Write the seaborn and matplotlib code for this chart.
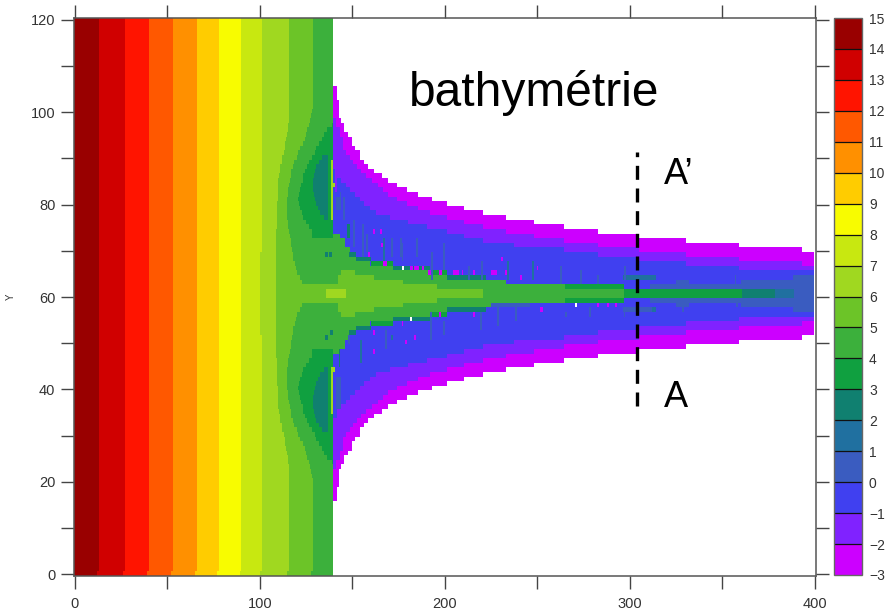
import numpy as np
import matplotlib
matplotlib.use("Agg")
import matplotlib.pyplot as plt
from matplotlib.colors import ListedColormap, BoundaryNorm
import seaborn as sns

# colour classes, from -3 upward
LEVELS = list(range(-3, 16))
COLOURS = ["#cc00ff", "#8022ff", "#4040f0", "#3a5cc0", "#2070a0", "#108070",
           "#10a040", "#3cb03c", "#6cc428", "#a0d820", "#c8e810", "#f8fc00",
           "#ffcc00", "#ff9000", "#ff5800", "#ff1400", "#d00000", "#990000"]

# straight land contours (x), and the classes between them
LAND_EDGES = [13, 27, 40, 53, 66, 78, 90]
LAND_VALUES = [14.5, 13.5, 12.5, 11.5, 10.5, 9.5, 8.5, 7.5, 6.5, 5.5, 4.5]
COAST_X = 139.5
EAST_X = 399.5
BOTTOM_ROW_SHIFT = 1.0

# curved contours: x of the contour on row k counted away from the channel axis
EDGE_7 = [100.2] * 9 + [101]
EDGE_6 = [108.6] * 14 + [109, 109, 109, 109, 109, 109, 109.5, 109.5, 110, 110, 110, 110.5, 111, 111,
                         112, 112, 113, 113.4, 113.4, 114, 114.5, 115, 115, 115.7]
EDGE_5 = [122.8, 122.8, 122.5, 121.5, 120.1, 119.5, 119, 118, 118, 117.5, 117, 116.6, 116, 115.7, 115.2,
          115, 114.7, 114.7, 114.7, 114.7, 114.7, 115, 115.2, 115.7, 116.2, 116.7, 117, 118, 118.6, 120,
          120.7, 121.5, 123, 124.3, 125, 125.6, 126.6, 127, 127.4, 128, 128.6]
EDGE_4_K = list(range(12, 37))
EDGE_4 = [128, 127.9, 126.5, 125.2, 123.5, 122.5, 121.7, 121, 120.7, 121, 121.6, 122.2, 122.8, 123.5, 124.3,
          125.5, 126.5, 127.9, 129.5, 130.6, 132, 133.5, 134.5, 136, 139]
EDGE_3_K = list(range(16, 30))
EDGE_3 = [134.5, 132.5, 131.4, 130.5, 129.7, 129, 128.5, 128.5, 128.6, 129.2, 130, 130.6, 132, 133.3]
EDGE_3_END = 137

# channel half-widths (rows) after each station x
OUTER_X = [139.5, 141.5, 142.5, 144, 145.4, 147.7, 149.6, 151.4, 154, 156.2, 158.4, 161.6, 165.8, 169.2, 174,
           179.5, 185.4, 193, 201, 210.3, 220.5, 233, 248, 264.3, 282.7, 304.9, 330.3, 358.9, 393]
OUTER_N = [45, 42, 38, 37, 35, 34, 32, 31, 29, 28, 27, 26, 25, 24, 23, 22, 21, 20, 19, 18, 17, 16, 15, 14, 13,
           12, 11, 10, 9]
MAG_X = [139.5, 141, 143.2, 144.9, 146.5, 148.6, 150.3, 152.3, 154.6, 157.7, 160.5, 163.8, 166.5, 169.2, 174,
         179.3, 185.4, 191.9, 200.9, 210.3, 220.5, 233, 248, 264.3, 282.7, 304.9, 330.3, 358.9, 393]
MAG_N = [38, 36, 34, 31, 30, 29, 28, 27, 26, 25, 24, 23, 22, 21, 20, 19, 18, 17, 16, 15, 14, 13, 12, 11, 10, 9,
         8, 7, 6]
PURPLE_X = [139.5, 141.6, 144.2, 146.5, 148.6, 151.4, 154, 156.2, 159.5, 162.7, 170.3, 180, 190.3, 201.1, 210.3,
            220.5, 237.3, 264.3, 282.7, 304.9, 330.3, 358.9]
PURPLE_N = [27, 25, 24, 23, 22, 21, 20, 19, 18, 17, 16, 15, 14, 13, 12, 11, 10, 9, 8, 7, 6, 5]
SHELF_X = [139.5, 143.2, 146, 148.6, 152.4, 159.5, 171.9, 191.9, 201, 233, 296.8]
SHELF_N = [13, 12, 10, 8, 7, 6, 5, 4, 3, 2, 0]

# bands mirrored on both sides of the axis: row k, x range, class value
BAND_K = [0, 0, 1, 2, 3, 4, 0, 0, 0, 0, 0, 1, 1, 2, 3, 6, 5, 4, 3, 7, 8, 3, 2]
BAND_X0 = [108.6, 135.7, 108.6, 141.8, 141.8, 144.1, 296.8, 360.5, 378.4, 388.6, 220.4, 265, 311, 360, 388,
           160, 172, 192, 201, 152, 148, 296, 325]
BAND_X1 = [220.4, 146.5, 195.5, 177.5, 161.6, 151.4, 360.5, 378.4, 388.6, 399.5, 296.8, 296.8, 399.5, 399.5,
           399.5, 172, 192, 201, 222, 160, 152, 314, 332]
BAND_V = [5.5, 6.5, 5.5, 5.5, 5.5, 5.5, 3.5, 2.5, 1.5, 0.5, 4.5, 3.5, 0.5, 0.5, 0.5,
          3.5, 2.5, 3.5, 2.5, 2.5, 2.5, 1.5, 0.5]

# single irregular cells and short streaks: x, width, y range, class value (-9 = no data)
S_X = [141, 140.5, 143, 145, 146.8, 150.4, 155, 161, 164.8, 157.6, 166.6, 171, 176.5, 167.5, 199, 192.7, 183.7,
       187.3, 219.7, 196.3, 204.4, 209, 226, 212.5, 177, 181, 270.7,
       141, 142.3, 147.7, 154, 161.2, 161.2, 167.5, 171, 176.5, 178.3, 183, 191.8, 199, 215.2, 197.2, 218.8,
       233.3, 246.8, 249.5, 262, 230.6, 225.2, 227, 240.5, 272.9, 282, 297.2, 356.6,
       225, 251.3, 228, 237.8, 282, 287.3, 291.8, 296, 327.8, 357.5, 375.5, 278, 264.8, 296.3,
       138.3, 138.5, 138.5, 135, 137.5, 138.3, 138.5, 138.5, 135, 138,
       155, 171, 175.6, 184.6, 158.5, 165.7, 181, 184.6, 191, 196.3, 205.3, 215, 227, 232.3, 166.6]
S_W = [3, 1, 1, 1, 1.5, 1, 1, 1, 1, 1, 1, 1, 1, 1, 1, 1, 1,
       1, 1, 1, 1, 1, 1, 1, 1, 1, 1,
       3, 1, 1, 1, 1, 1, 1, 1, 1, 1, 1.5, 1, 1, 1, 1, 1,
       1, 1, 1, 1, 1, 1, 1, 1, 1, 1, 1, 1,
       21, 1.5, 1, 1, 1, 1, 1, 16, 1, 1, 1, 1, 1, 1,
       2, 1, 1, 1.5, 1.5, 2, 1, 1, 1.5, 1.5,
       1, 1, 1, 1, 1, 1, 1.5, 1.5, 1.5, 2, 2, 1, 1, 1, 1.5]
S_Y0 = [79, 83, 80, 77, 73.5, 71.6, 71, 74, 74.5, 70, 68, 72.5, 68, 67.5, 66, 64.5, 66, 66, 64.5, 65, 65, 65,
        65, 64.5, 66, 55.2, 58.2,
        36.2, 45, 50, 46.4, 48.5, 52, 49.3, 51, 54.3, 50.4, 51.4, 51.4, 52, 56.5, 56.5, 53,
        64, 64.4, 66.5, 63, 68.4, 65.3, 65.3, 64.2, 63, 63, 64.4, 62,
        58, 57.2, 54.6, 55, 58.2, 58.2, 58.2, 57.2, 57, 58, 58.3, 56.5, 56, 56,
        84.3, 78, 77.3, 69.5, 69.5, 44.6, 35.5, 35.2, 51.5, 52,
        69, 69, 69, 69, 69.7, 71, 66, 66, 65.2, 65.2, 65.2, 65.2, 65.2, 65, 67.3]
S_Y1 = [81, 87.5, 82.5, 81, 75, 76, 75, 74, 74.5, 73, 72, 72.5, 71.5, 67.5, 71, 69.5, 66, 66, 67.5, 65, 65, 65,
        65, 66.5, 66, 55.2, 58.2,
        42.7, 47.8, 51.4, 50, 48.5, 52, 52, 51, 54.3, 50.4, 51.4, 55.8, 54.7, 56.5, 56.5, 56.5,
        67, 67.6, 66.5, 66, 68.4, 65.3, 65.3, 64.2, 65.5, 64.4, 66.5, 64,
        58, 57.2, 58, 58, 58.2, 58.2, 58.2, 57.2, 58.5, 59.5, 58.3, 57.5, 56, 56,
        84.3, 89, 77.3, 69.5, 69.5, 44.6, 42.8, 35.2, 51.5, 52,
        72, 72, 72, 72, 69.7, 71, 66, 66, 65.2, 65.2, 65.2, 65.2, 65.2, 65, 67.3]
S_V = [0.5, -1.5, 0.5, 0.5, 2.5, 0.5, 0.5, -2.5, -2.5, 0.5, 1.5, -2.5, 0.5, -2.5, 0.5, 0.5, -2.5, -2.5, 0.5,
       -2.5, -2.5, -2.5, -2.5, 0.5, -9, -9, -9,
       0.5, 2.5, 0.5, 1.5, -2.5, -2.5, 0.5, 1.5, -2.5, -2.5, -2.5, 0.5, 0.5, -2.5, -2.5, 0.5,
       1.5, 1.5, -2.5, 0.5, -2.5, -2.5, -2.5, -2.5, 0.5, 0.5, 0.5, 0.5,
       0.5, -2.5, 0.5, 0.5, -2.5, -2.5, -2.5, 0.5, 0.5, 0.5, 0.5, 0.5, 0.5, 0.5,
       6.5, 6.5, 6.5, 2.5, 2.5, 6.5, 6.5, 6.5, 2.5, 2.5,
       0.5, 0.5, 0.5, 0.5, -2.5, -2.5, -2.5, -2.5, -2.5, -2.5, -2.5, -2.5, -2.5, -2.5, -2.5]

X_TICKS = list(range(0, 401, 50))
X_LABELS = ["0", "", "100", "", "200", "", "300", "", "400"]
Y_TICKS = list(range(0, 121, 10))
Y_LABELS = ["0", "", "20", "", "40", "", "60", "", "80", "", "100", "", "120"]

DX = 0.5
x_left = np.arange(-1, 401, DX)
x_centre = x_left + DX / 2
y_rows = np.arange(-1, 121)          # row r spans y from r - 0.25 to r + 0.75
AXIS_ROW = 60


def row_of(y):
    return int(np.floor(y + 0.25))


def pick(arr, k):
    return arr[min(k, len(arr) - 1)]


def steps(xs, ns, x):
    return ns[max(np.searchsorted(xs, x, side="right") - 1, 0)]


grid = np.full((len(y_rows), len(x_left)), np.nan)
for i, r in enumerate(y_rows):
    k = r - (AXIS_ROW + 1) if r > AXIS_ROW else AXIS_ROW - r
    edges = LAND_EDGES + [pick(EDGE_7, k), pick(EDGE_6, k), pick(EDGE_5, k)]
    if r <= 0:
        edges = [e - BOTTOM_ROW_SHIFT for e in edges]
    for j, x in enumerate(x_centre):
        if x < COAST_X:
            v = LAND_VALUES[np.searchsorted(edges, x)]
            if k in EDGE_4_K and x >= EDGE_4[EDGE_4_K.index(k)]:
                v = 3.5
            if k in EDGE_3_K and EDGE_3[EDGE_3_K.index(k)] <= x < EDGE_3_END:
                v = 2.5
        elif x < EAST_X:
            if k >= steps(OUTER_X, OUTER_N, x):
                v = np.nan
            elif k >= steps(MAG_X, MAG_N, x):
                v = -2.5
            elif k >= steps(PURPLE_X, PURPLE_N, x):
                v = -1.5
            elif k >= steps(SHELF_X, SHELF_N, x):
                v = -0.5
            else:
                v = 4.5
        else:
            v = np.nan
        grid[i, j] = v

for k, x0, x1, v in zip(BAND_K, BAND_X0, BAND_X1, BAND_V):
    cols = (x_centre >= x0) & (x_centre < x1)
    for r in (AXIS_ROW + 1 + k, AXIS_ROW - k):
        grid[r + 1, cols] = v

for x, w, y0, y1, v in zip(S_X, S_W, S_Y0, S_Y1, S_V):
    cols = (x_centre >= x) & (x_centre < x + w)
    for r in range(row_of(y0), row_of(y1) + 1):
        grid[r + 1, cols] = np.nan if v == -9 else v

# ---------------------------------------------------------------------------
sns.set_style("white")
plt.rcParams["font.family"] = ["Liberation Sans", "DejaVu Sans"]
FW, FH = 887, 610
fig = plt.figure(figsize=(FW / 100, FH / 100), dpi=100, facecolor="white")
ax = fig.add_axes([74 / FW, 1 - 576 / FH, 742 / FW, 558 / FH])
cax = fig.add_axes([834 / FW, 1 - 575 / FH, 28 / FW, 557 / FH])

cmap = ListedColormap(COLOURS)
norm = BoundaryNorm(LEVELS, cmap.N)
sns.heatmap(grid, ax=ax, cbar_ax=cax, cmap=cmap, norm=norm, mask=np.isnan(grid),
            xticklabels=False, yticklabels=False,
            cbar_kws=dict(ticks=LEVELS, drawedges=True, spacing="uniform"))


def tx(x):
    return (np.asarray(x, dtype=float) + 1) / DX


def ty(y):
    return np.asarray(y, dtype=float) + 1.25


ax.set_xlim(tx(-0.54), tx(400.55))
ax.set_ylim(ty(-0.43), ty(120.43))
ax.set_xticks(tx(X_TICKS), X_LABELS)
ax.set_yticks(ty(Y_TICKS), Y_LABELS)
ax.tick_params(axis="both", which="major", direction="out", length=9.4, width=1, color="#444444",
               labelcolor="#333333", labelsize=10.5, top=True, right=True, bottom=True, left=True,
               labeltop=False, labelright=False, pad=4)
ax.tick_params(axis="x", labelrotation=0, pad=6)
ax.tick_params(axis="y", labelrotation=0)
for s in ax.spines.values():
    s.set_visible(True)
    s.set_color("#555555")
    s.set_linewidth(1.1)
ax.set_ylabel("Y", fontsize=7, color="#333333")
ax.yaxis.set_label_coords((16 - 74) / 742, 0.5)

cb = ax.collections[0].colorbar
cb.outline.set_edgecolor("#666666")
cb.outline.set_linewidth(1.0)
cb.dividers.set_color("#111111")
cb.dividers.set_linewidth(0.9)
cb.ax.tick_params(length=0, labelsize=10, labelcolor="#333333", pad=5)
cb.ax.set_yticklabels([str(v).replace("-", "\u2212") for v in LEVELS])

ax.plot(tx([303.8, 303.8]), ty([36.4, 91.4]), color="black", lw=2.4, dashes=(4.2, 2.6))
ax.text(tx(180.5), ty(104.2), "bathymétrie", fontsize=34.5, color="black", ha="left", va="center")
ax.text(tx(318.4), ty(86.6), "A\u2019", fontsize=26, color="black", ha="left", va="center")
ax.text(tx(318.4), ty(38.2), "A", fontsize=26, color="black", ha="left", va="center")

fig.savefig("out.png", dpi=100, facecolor="white")
